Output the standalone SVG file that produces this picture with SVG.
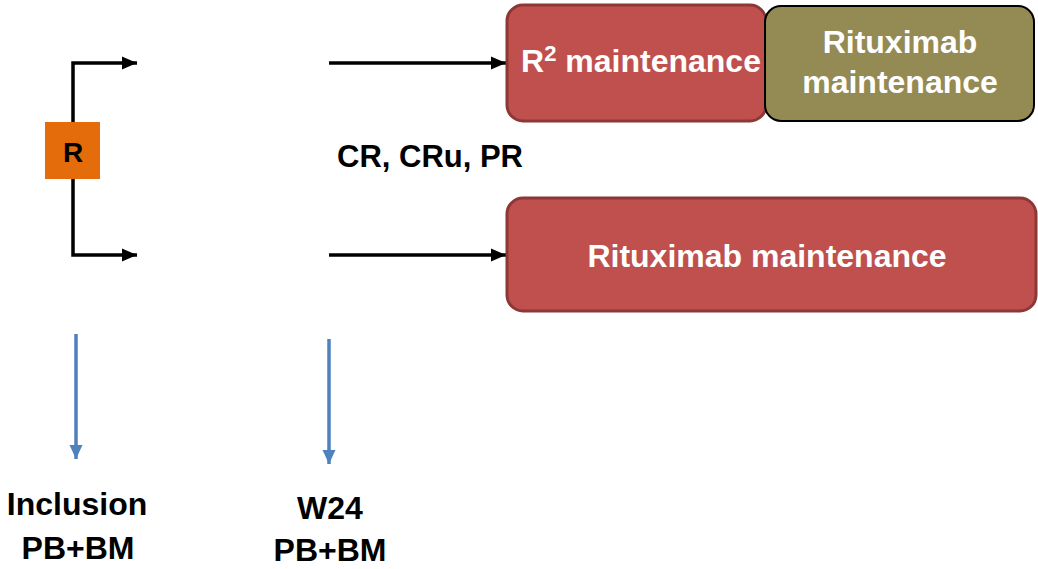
<svg xmlns="http://www.w3.org/2000/svg" width="1038" height="569" viewBox="0 0 1038 569">
<style>
text{font-family:"Liberation Sans",Arial,sans-serif;font-weight:bold}
.w{fill:#fff}
.k{fill:#000}
.blk{stroke:#000;stroke-width:3.5;fill:none}
.blu{stroke:#4F81BD;stroke-width:3.5;fill:none}
.red{fill:#C0504D;stroke:#8C3836;stroke-width:3}
.olv{fill:#948A54;stroke:#000;stroke-width:2}
</style>
<defs>
<marker id="ah" markerUnits="userSpaceOnUse" markerWidth="15" markerHeight="15" refX="15" refY="7.5" orient="auto" viewBox="0 0 15 15"><path d="M0,1 L15,7.5 L0,14 Z" fill="#000"/></marker>
<marker id="bh" markerUnits="userSpaceOnUse" markerWidth="14" markerHeight="14" refX="14" refY="7" orient="auto" viewBox="0 0 14 14"><path d="M0,0.5 L14,7 L0,13.5 Z" fill="#4F81BD"/></marker>
</defs>
<g id="connectors">
<path class="blk" d="M73,124 V63 H137" marker-end="url(#ah)"/>
<path class="blk" d="M73,177 V255 H137" marker-end="url(#ah)"/>
<path class="blk" d="M329,63 H506" marker-end="url(#ah)"/>
<path class="blk" d="M329,255 H506" marker-end="url(#ah)"/>
<path class="blu" d="M76,334 V459" marker-end="url(#bh)"/>
<path class="blu" d="M329,339 V464" marker-end="url(#bh)"/>
</g>
<g id="R">
<rect x="45" y="122" width="55" height="57" fill="#E46C0A"/>
<text x="73" y="162" font-size="28" text-anchor="middle" class="k">R</text>
</g>
<g id="r2">
<rect class="red" x="507" y="5" width="259" height="116" rx="16"/>
<text x="641" y="72" font-size="32" text-anchor="middle" class="w">R<tspan font-size="22" dy="-11">2</tspan><tspan dy="11"> maintenance</tspan></text>
</g>
<g id="ritux1">
<rect class="olv" x="765" y="6" width="269" height="115" rx="16"/>
<text x="900" y="53" font-size="32" text-anchor="middle" class="w">Rituximab</text>
<text x="900" y="93" font-size="32" text-anchor="middle" class="w">maintenance</text>
</g>
<g id="ritux2">
<rect class="red" x="507" y="198" width="529" height="113" rx="16"/>
<text x="767" y="267" font-size="32" text-anchor="middle" class="w">Rituximab maintenance</text>
</g>
<g id="resp">
<text x="337" y="167" font-size="31" class="k">CR, CRu, PR</text>
</g>
<g id="inclusion">
<text x="77" y="515" font-size="32" text-anchor="middle" class="k">Inclusion</text>
<text x="78" y="559" font-size="32" text-anchor="middle" class="k">PB+BM</text>
</g>
<g id="w24">
<text x="330" y="519" font-size="32" text-anchor="middle" class="k">W24</text>
<text x="330" y="561" font-size="32" text-anchor="middle" class="k">PB+BM</text>
</g>
</svg>
